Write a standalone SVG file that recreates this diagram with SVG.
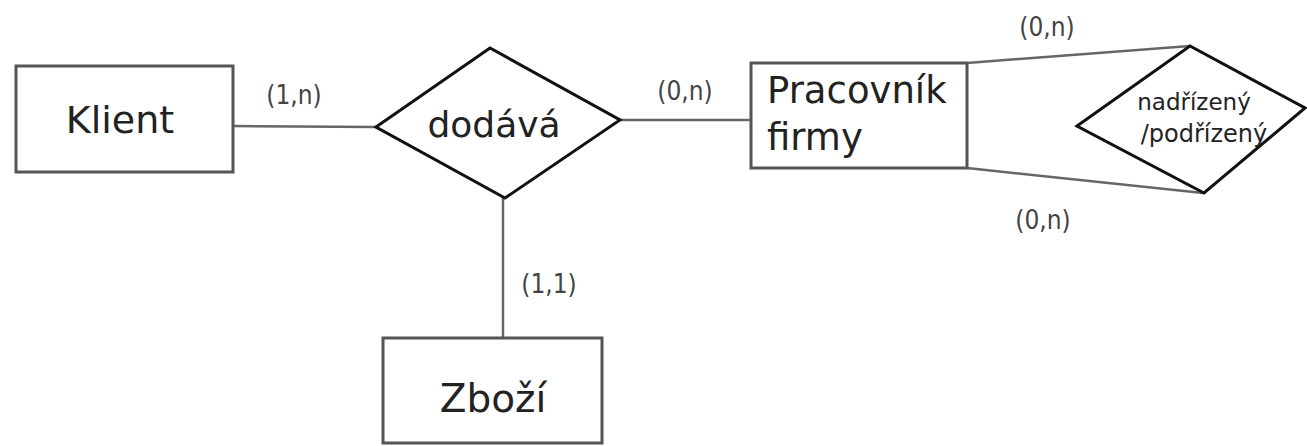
<svg xmlns="http://www.w3.org/2000/svg" width="1307" height="446" viewBox="0 0 1307 446">
<style>
.ent{fill:#fff;stroke:#555;stroke-width:3}
.rel{fill:#fff;stroke:#111;stroke-width:3;stroke-linejoin:miter}
.con{stroke:#666;stroke-width:2.5;fill:none}
.t{font-family:"DejaVu Sans","Liberation Sans",sans-serif;fill:#222}
.lbl{font-family:"DejaVu Sans Condensed","DejaVu Sans","Liberation Sans",sans-serif;font-size:26px;fill:#444}
</style>
<rect width="1307" height="446" fill="#fff"/>
<g id="connectors">
<line class="con" x1="233" y1="126" x2="376" y2="127"/>
<line class="con" x1="620" y1="120" x2="751" y2="120"/>
<line class="con" x1="503" y1="197" x2="503" y2="338"/>
<line class="con" x1="967" y1="63" x2="1190" y2="46"/>
<line class="con" x1="967" y1="168" x2="1203" y2="193"/>
<text class="lbl" x="294" y="104" text-anchor="middle">(1,n)</text>
<text class="lbl" x="685" y="100" text-anchor="middle">(0,n)</text>
<text class="lbl" x="549" y="293" text-anchor="middle">(1,1)</text>
<text class="lbl" x="1047" y="36" text-anchor="middle">(0,n)</text>
<text class="lbl" x="1043" y="229" text-anchor="middle">(0,n)</text>
</g>
<g id="klient">
<rect class="ent" x="16" y="66" width="217" height="106"/>
<text class="t" x="120" y="133" font-size="38" text-anchor="middle">Klient</text>
</g>
<g id="dodava">
<polygon class="rel" points="376,127 490,48 620,120 505,198"/>
<text class="t" x="494" y="137" font-size="36" text-anchor="middle">dodává</text>
</g>
<g id="pracovnik">
<rect class="ent" x="751" y="63" width="216" height="105"/>
<text class="t" x="767" y="103" font-size="37">Pracovník</text>
<text class="t" x="767" y="150" font-size="37">firmy</text>
</g>
<g id="zbozi">
<rect class="ent" x="383" y="338" width="219" height="105"/>
<text class="t" x="493" y="412" font-size="39" text-anchor="middle">Zboží</text>
</g>
<g id="nadrizeny">
<polygon class="rel" points="1077,126 1190,46 1305,108 1204,193"/>
<text class="t" x="1194" y="110" font-size="23" text-anchor="middle">nadřízený</text>
<text class="t" x="1204" y="142" font-size="24" text-anchor="middle">/podřízený</text>
</g>
</svg>
